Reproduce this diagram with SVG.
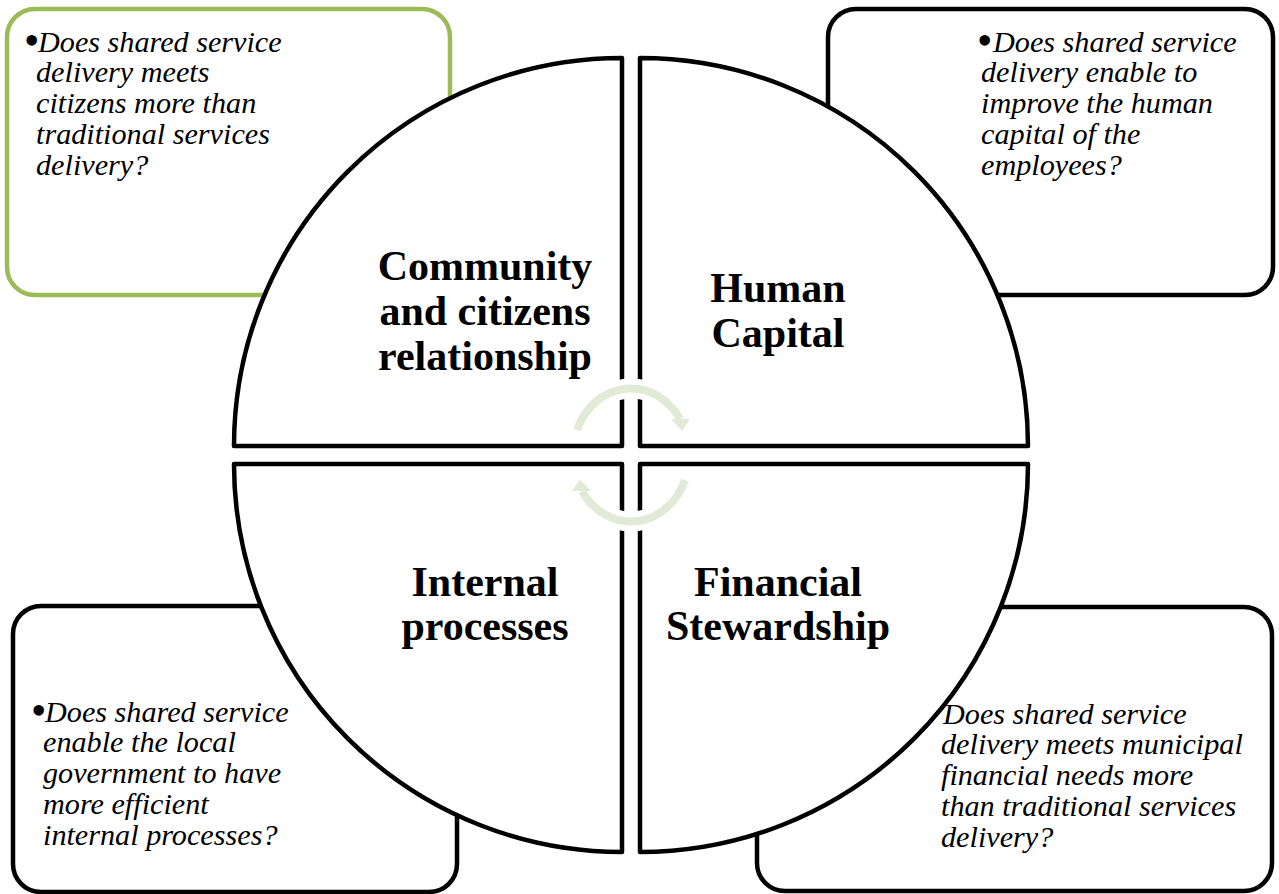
<svg xmlns="http://www.w3.org/2000/svg" width="1279" height="894" viewBox="0 0 1279 894">
  <style>
    .box { fill: #ffffff; stroke: #000000; stroke-width: 4.5; }
    .box-green { stroke: #9bbb59; }
    .sector { fill: #ffffff; stroke: #000000; stroke-width: 4.5; stroke-linejoin: round; }
    .q { font-family: "Liberation Serif", "Times New Roman", serif; font-style: italic; font-size: 30.2px; fill: #000000; }
    .bullet { font-family: "Liberation Serif", "Times New Roman", serif; font-size: 44px; fill: #000000; }
    .title { font-family: "Liberation Serif", "Times New Roman", serif; font-weight: bold; font-size: 42px; fill: #000000; text-anchor: middle; }
    .cycle-halo { fill: none; stroke: #ffffff; stroke-width: 20; }
    .cycle { fill: none; stroke: #e1ead7; stroke-width: 8; }
    .cycle-head { fill: #e1ead7; }
    .cycle-head-halo { fill: #ffffff; stroke: #ffffff; stroke-width: 12; stroke-linejoin: round; }
  </style>

  <!-- question boxes (frames) -->
  <g id="box-community">
    <rect class="box box-green" x="7" y="9" width="443" height="286" rx="28"/>
  </g>
  <g id="box-human">
    <rect class="box" x="828" y="9" width="445" height="286" rx="28"/>
  </g>
  <g id="box-internal">
    <rect class="box" x="13" y="606" width="444" height="286" rx="28"/>
  </g>
  <g id="box-financial">
    <rect class="box" x="757" y="607" width="515" height="284" rx="28"/>
  </g>

  <!-- four quadrants of the circle -->
  <g id="sector-community">
    <path class="sector" d="M 622 446 L 234 446 A 388 388 0 0 1 622 58 Z"/>
    <text class="title" x="485" y="280">Community</text>
    <text class="title" x="485" y="325">and citizens</text>
    <text class="title" x="485" y="370">relationship</text>
  </g>
  <g id="sector-human">
    <path class="sector" d="M 640 446 L 640 58 A 388 388 0 0 1 1028 446 Z"/>
    <text class="title" x="778" y="302">Human</text>
    <text class="title" x="778" y="347">Capital</text>
  </g>
  <g id="sector-internal">
    <path class="sector" d="M 622 464 L 622 852 A 388 388 0 0 1 234 464 Z"/>
    <text class="title" x="485" y="596">Internal</text>
    <text class="title" x="485" y="640">processes</text>
  </g>
  <g id="sector-financial">
    <path class="sector" d="M 640 464 L 1028 464 A 388 388 0 0 1 640 852 Z"/>
    <text class="title" x="778" y="596">Financial</text>
    <text class="title" x="778" y="640">Stewardship</text>
  </g>

  <!-- circular arrows in the middle -->
  <g id="connectors">
    <g id="cycle-top">
      <path class="cycle-halo" d="M 577 430 A 58 65.5 0 0 1 680 419"/>
      <polygon class="cycle-head-halo" points="671,419 690,419 682,431"/>
      <path class="cycle" d="M 577 430 A 58 65.5 0 0 1 680 419"/>
      <polygon class="cycle-head" points="671,419 690,419 682,431"/>
    </g>
    <g id="cycle-bottom" transform="rotate(180 631 455)">
      <path class="cycle-halo" d="M 577 430 A 58 65.5 0 0 1 680 419"/>
      <polygon class="cycle-head-halo" points="671,419 690,419 682,431"/>
      <path class="cycle" d="M 577 430 A 58 65.5 0 0 1 680 419"/>
      <polygon class="cycle-head" points="671,419 690,419 682,431"/>
    </g>
  </g>

  <!-- question texts -->
  <g id="box-community-text">
    <text class="bullet" x="24" y="55">•</text>
    <text class="q" x="38" y="52">Does shared service</text>
    <text class="q" x="36" y="82">delivery meets</text>
    <text class="q" x="36" y="113">citizens more than</text>
    <text class="q" x="36" y="144">traditional services</text>
    <text class="q" x="36" y="175">delivery?</text>
  </g>
  <g id="box-human-text">
    <text class="bullet" x="977" y="55">•</text>
    <text class="q" x="993" y="52">Does shared service</text>
    <text class="q" x="981" y="82">delivery enable to</text>
    <text class="q" x="981" y="113">improve the human</text>
    <text class="q" x="981" y="144">capital of the</text>
    <text class="q" x="981" y="175">employees?</text>
  </g>
  <g id="box-internal-text">
    <text class="bullet" x="31" y="725">•</text>
    <text class="q" x="45" y="722">Does shared service</text>
    <text class="q" x="43" y="752">enable the local</text>
    <text class="q" x="43" y="783">government to have</text>
    <text class="q" x="43" y="814">more efficient</text>
    <text class="q" x="43" y="845">internal processes?</text>
  </g>
  <g id="box-financial-text">
    <text class="q" x="943" y="724">Does shared service</text>
    <text class="q" x="941" y="754">delivery meets municipal</text>
    <text class="q" x="941" y="785">financial needs more</text>
    <text class="q" x="941" y="816">than traditional services</text>
    <text class="q" x="941" y="847">delivery?</text>
  </g>
</svg>
